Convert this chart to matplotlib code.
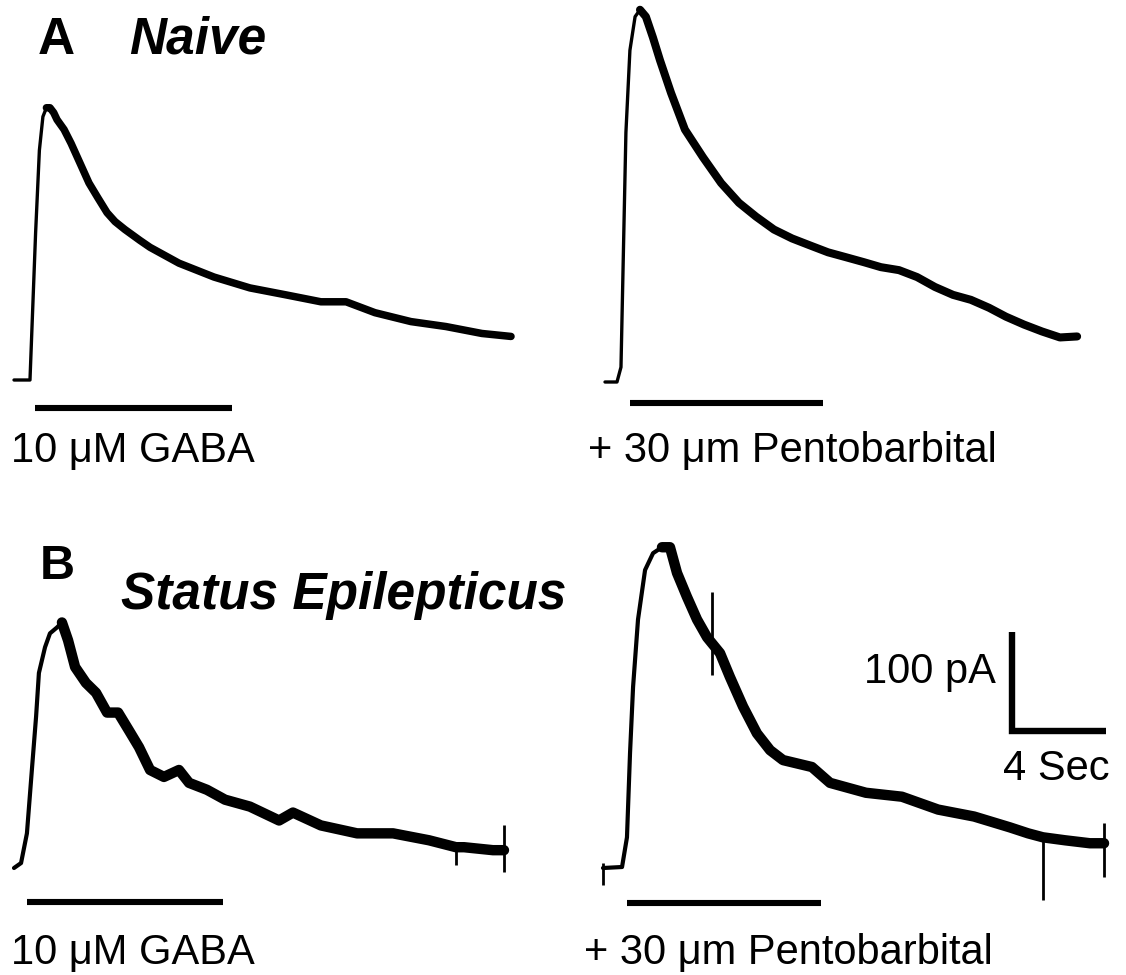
import matplotlib
matplotlib.use("Agg")
import matplotlib.pyplot as plt

plt.rcParams['font.family'] = ['Liberation Sans', 'DejaVu Sans']

# ---------------- data (time in s, current in pA) ----------------
# A: Naive, 10 uM GABA
a1_t = [0.0, 0.68, 0.92, 1.08, 1.23, 1.38, 1.53, 1.69, 1.83, 2.13, 2.43, 2.81,
        3.19, 3.57, 3.96, 4.30, 4.72, 5.36, 5.79, 7.02, 8.51, 10.04, 11.57,
        13.06, 14.13, 15.36, 16.89, 18.38, 19.91, 21.15]
a1_i = [0, 0, 149, 232, 266, 275, 275, 270, 263, 253, 239, 219,
        199, 184, 169, 160, 152, 141, 134, 118, 104, 93, 86,
        79, 79, 68, 59, 54, 47, 44]

# A: Naive, + 30 um Pentobarbital
a2_t = [0.0, 0.51, 0.68, 0.89, 1.06, 1.28, 1.49, 1.74, 2.04, 2.34, 2.81, 3.40,
        4.17, 4.94, 5.70, 6.43, 7.19, 7.96, 8.72, 9.49, 10.26, 11.02, 11.74,
        12.51, 13.28, 14.04, 14.81, 15.57, 16.34, 17.06, 17.83, 18.60, 19.36, 20.09]
a2_i = [0, 0, 15, 252, 335, 369, 376, 369, 348, 325, 292, 255,
        227, 201, 181, 167, 154, 145, 138, 131, 126, 121, 116,
        113, 106, 96, 88, 83, 75, 66, 58, 51, 45, 46]

# B: Status Epilepticus, 10 uM GABA
b1_t = [0.0, 0.30, 0.55, 0.77, 0.94, 1.06, 1.32, 1.53, 1.83, 2.04, 2.30, 2.60,
        3.06, 3.49, 3.96, 4.43, 4.89, 5.32, 5.79, 6.38, 7.02, 7.45, 8.21, 8.98,
        10.04, 11.28, 11.87, 13.06, 14.60, 16.13, 17.66, 18.81, 19.15, 20.38, 20.85]
b1_i = [0, 5, 35, 102, 153, 197, 223, 237, 243, 248, 230, 203,
        187, 177, 157, 157, 139, 122, 99, 92, 99, 86, 79, 69,
        62, 48, 56, 43, 35, 35, 28, 21, 21, 18, 18]
b1_spike_t = [18.81, 20.85]
b1_spike_lo = [3, -4]
b1_spike_hi = [21, 43]

# B: Status Epilepticus, + 30 um Pentobarbital
b2_t = [0.0, 0.81, 1.02, 1.15, 1.28, 1.49, 1.79, 2.13, 2.51, 2.85, 3.15, 3.57,
        4.00, 4.43, 4.98, 5.40, 5.96, 6.55, 7.11, 7.66, 8.89, 9.66, 11.19,
        12.72, 14.26, 15.79, 17.32, 18.09, 18.72, 19.66, 20.72, 21.32]
b2_i = [0, 1, 31, 116, 183, 251, 301, 318, 324, 324, 298, 274,
        251, 233, 217, 193, 163, 136, 119, 109, 102, 86, 76,
        72, 59, 52, 41, 35, 31, 28, 25, 25]
b2_spike_t = [0.0, 4.64, 18.72, 21.32]
b2_spike_lo = [-17, 195, -32, -9]
b2_spike_hi = [5, 279, 31, 45]

# drug application bars (start s, end s, level pA)
bar_start = [0.89, 1.06, 0.55, 1.00]
bar_end = [9.28, 9.28, 8.89, 9.28]
bar_level = [-28, -21, -34, -35]

drug_labels = ["10 \u03bcM GABA", "+ 30 \u03bcm Pentobarbital",
               "10 \u03bcM GABA", "+ 30 \u03bcm Pentobarbital"]
panel_letters = ["A", "B"]
panel_titles = ["Naive", "Status Epilepticus"]

# scale bar
scale_pa = 100
scale_s = 4
scale_t0 = 17.40
scale_i0 = 138.4

# ---------------- layout ----------------
W, H = 1126, 975
PX_PER_S = 23.5
PX_PER_PA = 0.99
fig = plt.figure(figsize=(W / 100, H / 100), dpi=100)
fig.patch.set_facecolor("white")

cells = [(0, 0, 560, 487), (560, 0, 566, 487), (0, 487, 560, 488), (560, 487, 566, 488)]
origins = [(14, 380), (605, 382), (14, 868), (603, 868)]
traces = [(a1_t, a1_i), (a2_t, a2_i), (b1_t, b1_i), (b2_t, b2_i)]
rise_lw = [2.4, 2.4, 3.0, 3.0]
decay_lw = [5.4, 5.8, 7.5, 7.5]

axes = []
for k, ((L, T, w, h), (x0, yb)) in enumerate(zip(cells, origins)):
    ax = fig.add_axes([L / W, 1 - (T + h) / H, w / W, h / H])
    ax.set_xlim((L - x0) / PX_PER_S, (L + w - x0) / PX_PER_S)
    ax.set_ylim((yb - (T + h)) / PX_PER_PA, (yb - T) / PX_PER_PA)
    ax.axis("off")
    t, i = traces[k]
    pk = i.index(max(i))
    ax.plot(t, i, color="black", lw=rise_lw[k], solid_joinstyle="round", solid_capstyle="round")
    ax.plot(t[pk:], i[pk:], color="black", lw=decay_lw[k],
            solid_joinstyle="round", solid_capstyle="round")
    ax.plot([bar_start[k], bar_end[k]], [bar_level[k], bar_level[k]],
            color="black", lw=4.4, solid_capstyle="butt")
    axes.append(ax)

axes[2].vlines(b1_spike_t, b1_spike_lo, b1_spike_hi, color="black", lw=2.0)
axes[3].vlines(b2_spike_t, b2_spike_lo, b2_spike_hi, color="black", lw=2.0)

# scale bar
ax = axes[3]
ax.plot([scale_t0, scale_t0, scale_t0 + scale_s],
        [scale_i0 + scale_pa, scale_i0, scale_i0],
        color="black", lw=4.6, solid_joinstyle="miter", solid_capstyle="butt")


def ftext(x, y, s, **kw):
    fig.text(x / W, 1 - y / H, s, **kw)


# panel letters and titles
ftext(38, 54, panel_letters[0], fontsize=37, fontweight="bold", va="baseline")
ftext(129, 54, panel_titles[0], fontsize=37, fontweight="bold", style="italic", va="baseline")
ftext(40, 579, panel_letters[1], fontsize=35, fontweight="bold", va="baseline")
ftext(121, 609, panel_titles[1], fontsize=37, fontweight="bold", style="italic", va="baseline")

# drug labels
ftext(11, 462, drug_labels[0], fontsize=30, va="baseline")
ftext(588, 462, drug_labels[1], fontsize=30, va="baseline")
ftext(11, 964, drug_labels[2], fontsize=30, va="baseline")
ftext(584, 964, drug_labels[3], fontsize=30, va="baseline")

# scale labels
ftext(996, 683, f"{scale_pa} pA", fontsize=30, va="baseline", ha="right")
ftext(1003, 780, f"{scale_s} Sec", fontsize=30, va="baseline")

fig.savefig("out.png", dpi=100, facecolor="white")
